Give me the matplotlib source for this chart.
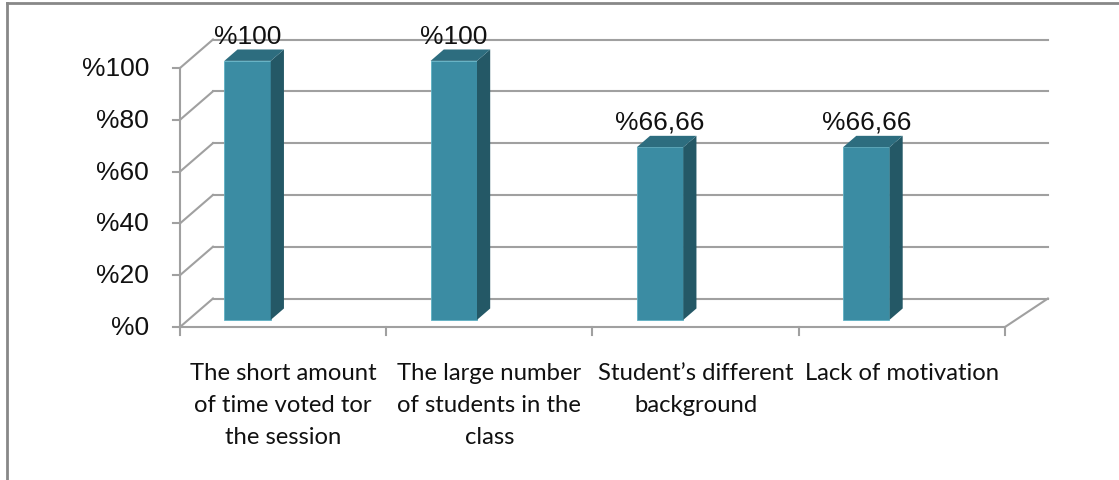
import matplotlib
matplotlib.use("Agg")
import matplotlib.pyplot as plt
from matplotlib.patches import Polygon
from matplotlib.lines import Line2D

# chart data
categories = ["The short amount\nof time voted tor\nthe session",
              "The large number\nof students in the\nclass",
              "Student\u2019s different\nbackground",
              "Lack of motivation"]
values = [100, 100, 66.66, 66.66]
value_labels = ["%100", "%100", "%66,66", "%66,66"]
y_ticks = [0, 20, 40, 60, 80, 100]
y_tick_labels = ["%0", "%20", "%40", "%60", "%80", "%100"]

# 3d look
DX, DY = 0.16, 11.0          # depth vector (category units, percent units)
BAR_OFF, BAR_W = 0.175, 0.225
F0, FD = 0.25, 0.40          # bar front depth, bar thickness (fractions of depth)
FRONT = "#3b8ca3"
SIDE = "#245866"
TOP = "#2d6d7f"
GRID = "#a0a0a0"

fig = plt.figure(figsize=(11.19, 4.81), dpi=100)
ax = fig.add_axes([0, 0, 1, 1])
ax.set_xlim(-180 / 206.25, (1119 - 180) / 206.25)
ax.set_ylim((328 - 481) / 2.59, 328 / 2.59)
ax.axis("off")

n = len(categories)

# back wall gridlines + left wall diagonals
for t, lab in zip(y_ticks, y_tick_labels):
    ax.plot([0, DX], [t, t + DY], color=GRID, lw=1.5, zorder=1)
    ax.plot([DX, n + DX * 1.3], [t + DY, t + DY], color=GRID, lw=1.5, zorder=1)
    ax.plot([-0.034, 0], [t, t], color=GRID, lw=1.5, zorder=1)
    ax.text(-0.150, t, lab, ha="right", va="center",
            fontsize=19, family="Liberation Sans", color="#111111")

# front axis and floor
ax.plot([0, 0], [0, 100], color=GRID, lw=1.5, zorder=1)
ax.plot([0, n], [0, 0], color=GRID, lw=1.5, zorder=1)
ax.plot([n, n + DX * 1.3], [0, DY], color=GRID, lw=1.5, zorder=1)
for i in range(n + 1):
    ax.plot([i, i], [0, -3], color=GRID, lw=1.5, zorder=1)

# bars
for i, v in enumerate(values):
    x0 = i + BAR_OFF + F0 * DX
    y0 = F0 * DY
    x1 = x0 + BAR_W
    ddx, ddy = FD * DX, FD * DY
    ax.bar(x0, v, width=BAR_W, bottom=y0, align="edge", color=FRONT,
           edgecolor="#5fb0c4", linewidth=0.6, zorder=3)
    ax.add_patch(Polygon([(x1, y0), (x1 + ddx, y0 + ddy), (x1 + ddx, y0 + v + ddy),
                          (x1, y0 + v)], closed=True, facecolor=SIDE, edgecolor="none",
                         zorder=3))
    ax.add_patch(Polygon([(x0, y0 + v), (x0 + ddx, y0 + v + ddy), (x1 + ddx, y0 + v + ddy),
                          (x1, y0 + v)], closed=True, facecolor=TOP, edgecolor="none",
                         zorder=3))
    ax.text(x0 + BAR_W / 2, v + 12.5, value_labels[i], ha="center",
            va="center", fontsize=19, family="Liberation Sans", color="#111111", zorder=4)

# category labels
for i, c in enumerate(categories):
    ax.text(i + 0.5, -13.6, c, ha="center", va="top", fontsize=17.2, family="Lato",
            linespacing=1.64, color="#111111")

# chart border (top and left visible)
fig.add_artist(Line2D([7 / 1119, 7 / 1119], [0, 1 - 4 / 481], transform=fig.transFigure,
                      color="#888888", lw=2))
fig.add_artist(Line2D([7 / 1119, 1], [1 - 4 / 481, 1 - 4 / 481], transform=fig.transFigure,
                      color="#888888", lw=2))

fig.savefig("out.png", dpi=100)
